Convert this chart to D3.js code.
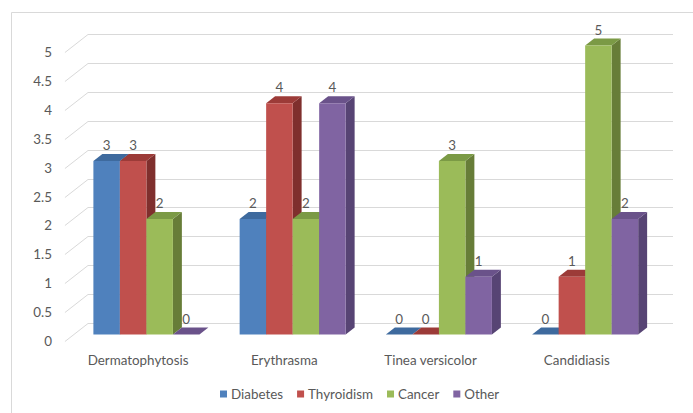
<!DOCTYPE html>
<html>
<head>
<meta charset="utf-8">
<script src="https://cdn.jsdelivr.net/npm/d3@7"></script>
<style>
  html, body { margin: 0; padding: 0; background: #fff; }
  svg { display: block; }
  text { font-family: Lato, "Open Sans", sans-serif; fill: #595959; }
</style>
</head>
<body>
<svg id="chart" width="693" height="413"></svg>
<script>
// Data
const categories = ["Dermatophytosis", "Erythrasma", "Tinea versicolor", "Candidiasis"];
const seriesNames = ["Diabetes", "Thyroidism", "Cancer", "Other"];
const diabetes   = [3, 2, 0, 0];
const thyroidism = [3, 4, 0, 1];
const cancer     = [2, 2, 3, 5];
const other      = [0, 4, 1, 2];
const seriesValues = [diabetes, thyroidism, cancer, other];
const yTicks = [0, 0.5, 1, 1.5, 2, 2.5, 3, 3.5, 4, 4.5, 5];

// Face colours: front, side, top
const palette = [
  { front: "#4f81bd", side: "#385d8a", top: "#3e6a9e" },
  { front: "#c0504d", side: "#7f2f2d", top: "#9c3b38" },
  { front: "#9bbb59", side: "#677d38", top: "#7b9a45" },
  { front: "#8064a2", side: "#574474", top: "#6a528a" }
];

const FS = 13.4;
const svg = d3.select("#chart");

// Chart area frame
svg.append("path")
  .attr("d", "M11.5,413 L11.5,12.5 L693,12.5")
  .attr("fill", "none").attr("stroke", "#d9d9d9").attr("stroke-width", 1);

// Back-wall scales
const x = d3.scaleBand().domain(categories).range([88, 673]).paddingInner(0.275).paddingOuter(0.1375);
const xs = d3.scaleBand().domain(seriesNames).range([0, x.bandwidth()]);
const y = d3.scaleLinear().domain([0, 5]).range([323, 34]);

// Oblique depth: d pixels toward viewer moves down d and left d*K
const K = 1.28;
const DEPTH = 18;          // floor depth
const BAR_FRONT = 11.5;    // depth of bar front face
const BAR_BACK = 4.5;      // depth of bar back face
const P = (xb, yb, d) => [xb - d * K, yb + d];

// Gridlines: back wall + left-side diagonal
const grid = svg.append("g");
yTicks.forEach(t => {
  const yb = Math.round(y(t)) + 0.5;
  const [fx, fy] = P(88, yb, DEPTH);
  grid.append("path")
    .attr("d", `M${fx},${fy} L88,${yb} L673,${yb}`)
    .attr("fill", "none").attr("stroke", "#d9d9d9").attr("stroke-width", 1);
  svg.append("text")
    .attr("x", 52).attr("y", fy).attr("dy", "0.35em")
    .attr("text-anchor", "end").attr("font-size", FS)
    .text(t);
});

// Bars
const bars = svg.append("g");
categories.forEach((cat, ci) => {
  seriesNames.forEach((s, si) => {
    const v = seriesValues[si][ci];
    const col = palette[si];
    const x0 = x(cat) + xs(s);
    const x1 = x0 + xs.bandwidth();
    const yt = y(v), y0 = y(0);
    const poly = pts => "M" + pts.map(p => p.join(",")).join("L") + "Z";
    const fTL = P(x0, yt, BAR_FRONT), fTR = P(x1, yt, BAR_FRONT);
    const fBR = P(x1, y0, BAR_FRONT), fBL = P(x0, y0, BAR_FRONT);
    const bTL = P(x0, yt, BAR_BACK), bTR = P(x1, yt, BAR_BACK);
    const bBR = P(x1, y0, BAR_BACK);
    // side (right) face
    bars.append("path").attr("d", poly([fTR, bTR, bBR, fBR])).attr("fill", col.side);
    // top face
    bars.append("path").attr("d", poly([fTL, bTL, bTR, fTR])).attr("fill", col.top);
    // front face
    if (v > 0) bars.append("path").attr("d", poly([fTL, fTR, fBR, fBL])).attr("fill", col.front);
    // value label
    svg.append("text")
      .attr("x", (fTL[0] + fTR[0]) / 2)
      .attr("y", fTL[1] - 11)
      .attr("text-anchor", "middle").attr("font-size", FS)
      .text(v);
  });
  // category label at the front edge of the floor
  const [cx, cy] = P(x(cat) + x.bandwidth() / 2, y(0), DEPTH);
  svg.append("text")
    .attr("x", cx).attr("y", cy + 19).attr("dy", "0.35em")
    .attr("text-anchor", "middle").attr("font-size", FS)
    .text(cat);
});

// Legend
const legend = svg.append("g");
let lx = 220;
seriesNames.forEach((s, si) => {
  legend.append("rect")
    .attr("x", lx).attr("y", 390.5).attr("width", 7).attr("height", 7)
    .attr("fill", palette[si].front);
  const t = legend.append("text")
    .attr("x", lx + 11).attr("y", 394).attr("dy", "0.35em")
    .attr("font-size", FS).text(s);
  lx += 11 + t.node().getComputedTextLength() + 14;
});
</script>
</body>
</html>
